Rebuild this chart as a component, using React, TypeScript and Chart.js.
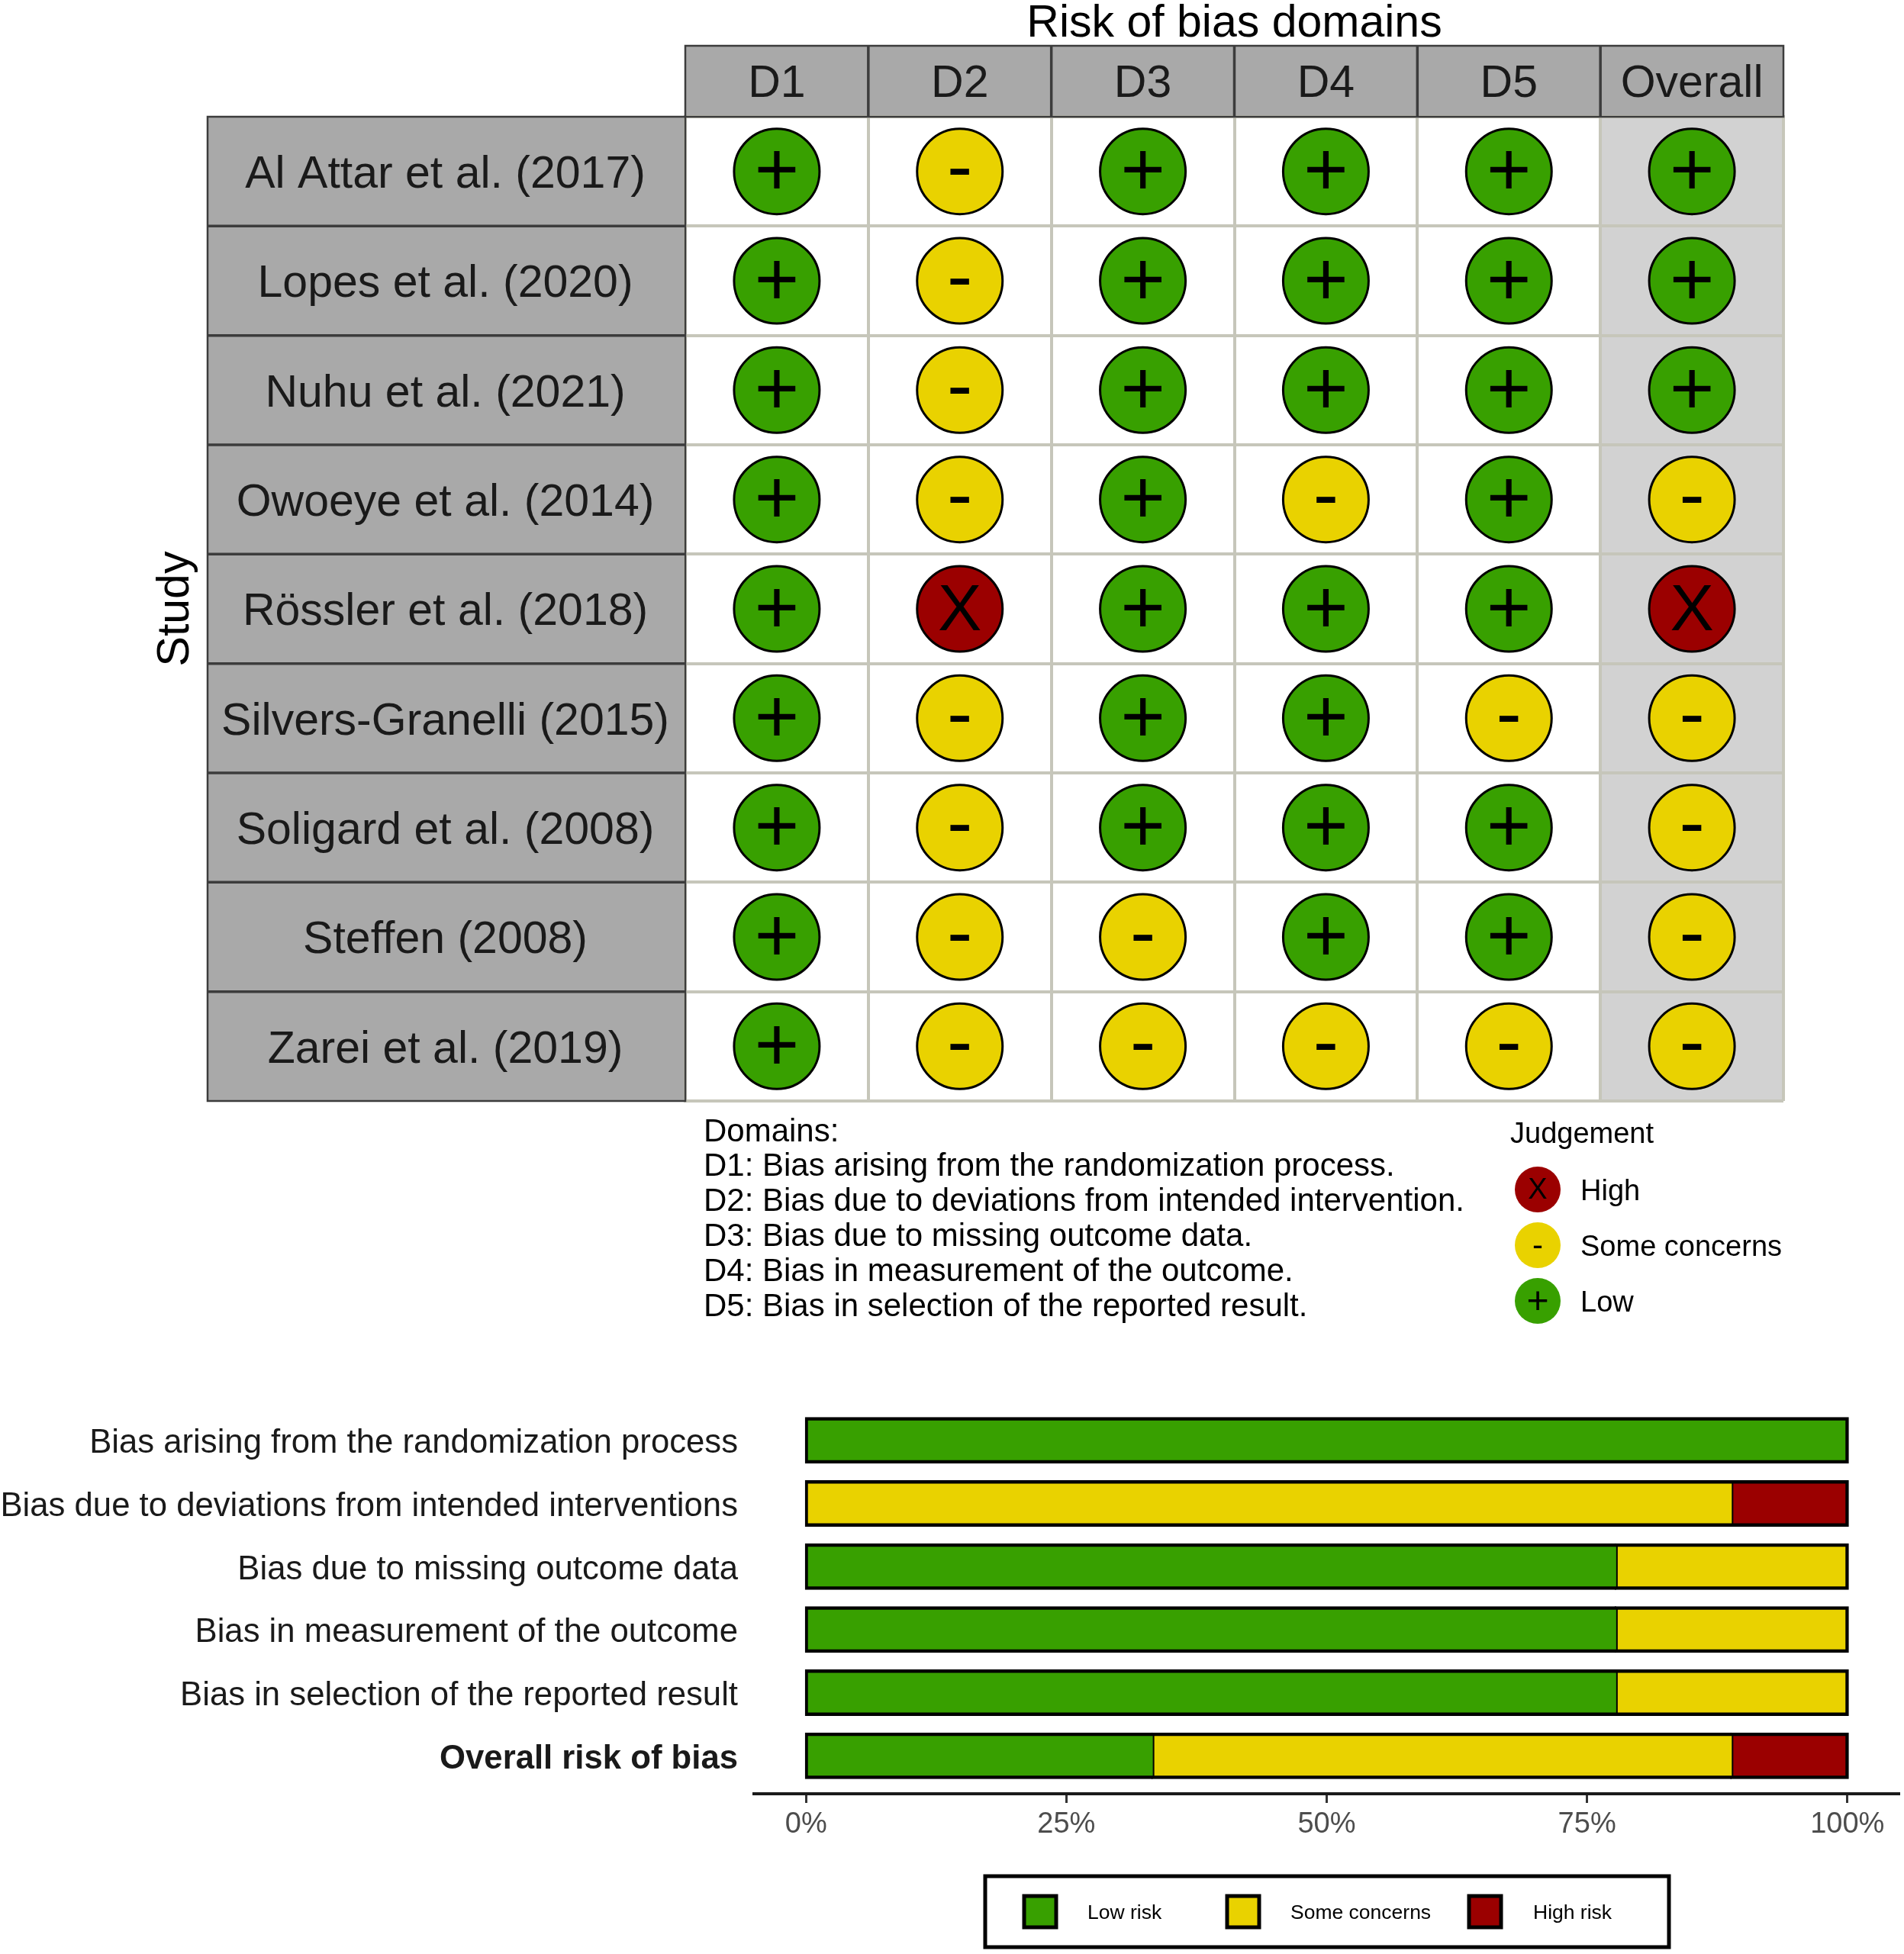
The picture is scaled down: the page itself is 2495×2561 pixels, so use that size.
import React, { useEffect, useRef } from "react";
import { Chart, registerables } from "chart.js";

Chart.register(...registerables);

const FONT = "'Liberation Sans', Arial, Helvetica, sans-serif";
Chart.defaults.font.family = FONT;

// ---------- traffic-light data ----------
const studies = [
  "Al Attar et al. (2017)",
  "Lopes et al. (2020)",
  "Nuhu et al. (2021)",
  "Owoeye et al. (2014)",
  "Rössler et al. (2018)",
  "Silvers-Granelli (2015)",
  "Soligard et al. (2008)",
  "Steffen (2008)",
  "Zarei et al. (2019)",
];
const domains = ["D1", "D2", "D3", "D4", "D5", "Overall"];
const d1 = ["+", "+", "+", "+", "+", "+", "+", "+", "+"];
const d2 = ["-", "-", "-", "-", "X", "-", "-", "-", "-"];
const d3 = ["+", "+", "+", "+", "+", "+", "+", "-", "-"];
const d4 = ["+", "+", "+", "-", "+", "+", "+", "+", "-"];
const d5 = ["+", "+", "+", "+", "+", "-", "+", "+", "-"];
const overall = ["+", "+", "+", "-", "X", "-", "-", "-", "-"];
const judgementColumns = [d1, d2, d3, d4, d5, overall];

const judgementNames = ["High", "Some concerns", "Low"];
const judgementGlyphs = ["X", "-", "+"];
const domainNotes = [
  "Domains:",
  "D1: Bias arising from the randomization process.",
  "D2: Bias due to deviations from intended intervention.",
  "D3: Bias due to missing outcome data.",
  "D4: Bias in measurement of the outcome.",
  "D5: Bias in selection of the reported result.",
];

// ---------- summary bar data ----------
const biasDomains = [
  "Bias arising from the randomization process",
  "Bias due to deviations from intended interventions",
  "Bias due to missing outcome data",
  "Bias in measurement of the outcome",
  "Bias in selection of the reported result",
  "Overall risk of bias",
];
const lowRisk = [100, 0, 77.8, 77.8, 77.8, 33.3];
const someConcerns = [0, 88.9, 22.2, 22.2, 22.2, 55.6];
const highRisk = [0, 11.1, 0, 0, 0, 11.1];
const xTicks = [0, 25, 50, 75, 100];
const barLegend = ["Low risk", "Some concerns", "High risk"];

// ---------- styling ----------
const GREEN = "#38a000";
const YELLOW = "#e9d200";
const RED = "#9b0000";
const glyphColors: Record<string, string> = { X: RED, "-": YELLOW, "+": GREEN };
const STRIP = "#a9a9a9";
const STRIP_LINE = "#3c3c3c";
const GRID = "#c6c6ba";
const TOP_H = 1780;

function text(ctx: any, s: string, x: number, y: number, font: string, color = "#000", align = "left") {
  ctx.font = font;
  ctx.fillStyle = color;
  ctx.textAlign = align;
  ctx.textBaseline = "middle";
  ctx.fillText(s, x, y);
}

function drawGlyph(ctx: any, g: string, x: number, y: number, big: boolean) {
  const size = big ? (g === "X" ? 86 : 100) : g === "X" ? 38 : g === "-" ? 42 : 50;
  const dy = big ? (g === "-" ? 0 : g === "+" ? 4 : 4) : 2;
  text(ctx, g, x, y + dy, `${size}px ${FONT}`, "#000", "center");
}

const stripPlugin = {
  id: "strips",
  beforeDraw(chart: any) {
    const { ctx, chartArea: a } = chart;
    ctx.save();
    // Overall column background
    const colW = (a.right - a.left) / domains.length;
    ctx.fillStyle = "#d2d2d2";
    ctx.fillRect(a.left + 5 * colW, a.top, colW, a.bottom - a.top);
    // strips
    ctx.fillStyle = STRIP;
    ctx.fillRect(272, a.top, a.left - 272, a.bottom - a.top);
    ctx.fillRect(a.left, 60, a.right - a.left, a.top - 60);
    ctx.restore();
  },
  afterDraw(chart: any) {
    const { ctx, chartArea: a } = chart;
    ctx.save();
    const rowH = (a.bottom - a.top) / studies.length;
    const colW = (a.right - a.left) / domains.length;
    ctx.strokeStyle = STRIP_LINE;
    ctx.lineWidth = 2.5;
    ctx.strokeRect(272, a.top, a.left - 272, a.bottom - a.top);
    ctx.strokeRect(a.left, 60, a.right - a.left, a.top - 60);
    ctx.lineWidth = 3.5;
    ctx.beginPath();
    for (let i = 1; i < studies.length; i++) {
      ctx.moveTo(272, a.top + i * rowH);
      ctx.lineTo(a.left, a.top + i * rowH);
    }
    for (let i = 1; i < domains.length; i++) {
      ctx.moveTo(a.left + i * colW, 60);
      ctx.lineTo(a.left + i * colW, a.top);
    }
    ctx.stroke();

    // domains note
    domainNotes.forEach((s, i) => text(ctx, s, 922, 1484 + i * 45.8, `42px ${FONT}`, "#000"));

    // judgement legend
    text(ctx, "Judgement", 1979, 1488, `38px ${FONT}`, "#000");
    judgementNames.forEach((n, i) => {
      const y = 1559 + i * 73;
      ctx.beginPath();
      ctx.arc(2015, y, 30, 0, Math.PI * 2);
      ctx.fillStyle = glyphColors[judgementGlyphs[i]];
      ctx.fill();
      drawGlyph(ctx, judgementGlyphs[i], 2015, y, false);
      text(ctx, n, 2071, y + 4, `38px ${FONT}`, "#000");
    });
    ctx.restore();
  },
  afterDatasetsDraw(chart: any) {
    const { ctx } = chart;
    ctx.save();
    chart.data.datasets.forEach((ds: any, i: number) => {
      chart.getDatasetMeta(i).data.forEach((el: any) => {
        drawGlyph(ctx, ds.glyph, el.x, el.y, true);
      });
    });
    ctx.restore();
  },
};

const barLegendPlugin = {
  id: "barLegend",
  afterDraw(chart: any) {
    const { ctx } = chart;
    ctx.save();
    ctx.strokeStyle = "#000";
    ctx.lineWidth = 5;
    ctx.strokeRect(1291, 2459 - TOP_H, 896, 93);
    const swatchX = [1340, 1606, 1923];
    const labelX = [1425, 1691, 2009];
    const colours = [GREEN, YELLOW, RED];
    barLegend.forEach((n, i) => {
      ctx.fillStyle = colours[i];
      ctx.fillRect(swatchX[i] + 2, 2485 - TOP_H, 42, 41);
      ctx.lineWidth = 5;
      ctx.strokeRect(swatchX[i] + 2, 2485 - TOP_H, 42, 41);
      text(ctx, n, labelX[i], 2508 - TOP_H, `26.5px ${FONT}`, "#000");
    });
    ctx.restore();
  },
};

export default function App() {
  const topRef = useRef<HTMLCanvasElement>(null);
  const botRef = useRef<HTMLCanvasElement>(null);

  useEffect(() => {
    const datasets = judgementGlyphs.map((g, k) => {
      const data: { x: string; y: string }[] = [];
      judgementColumns.forEach((col, c) =>
        col.forEach((v, r) => {
          if (v === g) data.push({ x: domains[c], y: studies[r] });
        })
      );
      return {
        label: judgementNames[k],
        glyph: g,
        data,
        showLine: false,
        pointStyle: "circle",
        pointRadius: 56,
        pointHoverRadius: 56,
        pointBackgroundColor: glyphColors[g],
        pointBorderColor: "#000",
        pointBorderWidth: 3,
        clip: false,
      };
    });

    const top = new Chart(topRef.current!, {
      type: "scatter",
      data: { datasets } as any,
      plugins: [stripPlugin],
      options: {
        animation: false,
        responsive: false,
        devicePixelRatio: 1,
        layout: { autoPadding: false, padding: { left: 195, top: 0, right: 158, bottom: TOP_H - 1443 } },
        plugins: { legend: { display: false }, tooltip: { enabled: false } },
        scales: {
          x: {
            type: "category",
            labels: domains,
            position: "top",
            offset: true,
            afterFit(s: any) {
              s.height = 153;
            },
            title: {
              display: true,
              text: "Risk of bias domains",
              font: { size: 59, lineHeight: 1.07 },
              color: "#000",
              padding: { top: 0, bottom: 0 },
            },
            grid: { offset: true, color: GRID, lineWidth: 4, drawTicks: false },
            border: { color: GRID, width: 4 },
            ticks: { font: { size: 59 }, color: "#1a1a1a", padding: 7, maxRotation: 0, autoSkip: false },
          },
          y: {
            type: "category",
            labels: studies,
            offset: true,
            afterFit(s: any) {
              s.width = 898 - 195;
            },
            title: {
              display: true,
              text: "Study",
              font: { size: 59 },
              color: "#000",
              padding: { top: 0, bottom: 0 },
            },
            grid: { offset: true, color: GRID, lineWidth: 4, drawTicks: false },
            border: { color: GRID, width: 4 },
            ticks: {
              font: { size: 59 },
              color: "#1a1a1a",
              padding: 21,
              crossAlign: "center",
              autoSkip: false,
              labelOffset: 5,
            },
          },
        },
      } as any,
    });

    const series = [lowRisk, someConcerns, highRisk];
    const seriesColours = [GREEN, YELLOW, RED];
    const bot = new Chart(botRef.current!, {
      type: "bar",
      data: {
        labels: biasDomains,
        datasets: barLegend.map((name, k) => ({
          label: name,
          data: series[k].map((v, i) => ({ x: v, y: i })),
          backgroundColor: seriesColours[k],
          borderColor: "#000",
          borderSkipped: false,
          barThickness: 57,
          inflateAmount: (c: any) => (series[k][c.dataIndex] === 0 ? 0 : 2),
          borderWidth: (c: any) => {
            const i = c.dataIndex;
            if (series[k][i] === 0) return 0;
            const after = series.slice(k + 1).reduce((s, a) => s + a[i], 0);
            return { top: 4.5, bottom: 4.5, left: 4, right: after === 0 ? 4.5 : 0 };
          },
        })),
      } as any,
      plugins: [barLegendPlugin],
      options: {
        indexAxis: "y",
        animation: false,
        responsive: false,
        devicePixelRatio: 1,
        layout: { autoPadding: false, padding: { left: 0, top: 1838 - TOP_H, right: 6, bottom: 0 } },
        plugins: { legend: { display: false }, tooltip: { enabled: false } },
        scales: {
          x: {
            type: "linear",
            stacked: true,
            min: -5,
            max: 105,
            afterBuildTicks(s: any) {
              s.ticks = xTicks.map((value) => ({ value }));
            },
            afterFit(s: any) {
              s.height = 2561 - 2351;
            },
            grid: { drawOnChartArea: false, drawTicks: true, tickLength: 12, tickColor: "#333", tickWidth: 3 },
            border: { color: "#1a1a1a", width: 4 },
            ticks: {
              font: { size: 38 },
              color: "#4d4d4d",
              padding: 6,
              maxRotation: 0,
              callback: (v: any) => `${v}%`,
            },
          },
          y: {
            type: "linear",
            stacked: true,
            reverse: true,
            offset: false,
            min: -0.6,
            max: 5.6,
            afterBuildTicks(s: any) {
              s.ticks = biasDomains.map((_, value) => ({ value }));
            },
            afterFit(s: any) {
              s.width = 988;
            },
            grid: { display: false, drawTicks: false, offset: false },
            border: { display: false },
            ticks: {
              font: (c: any) => ({ size: 43.7, weight: c.index === 5 ? "bold" : "normal" }),
              color: "#1a1a1a",
              padding: 21,
              autoSkip: false,
              labelOffset: 4.5,
              callback: (v: any) => biasDomains[v],
            },
          },
        },
      } as any,
    });

    return () => {
      top.destroy();
      bot.destroy();
    };
  }, []);

  return (
    <div style={{ position: "absolute", left: 0, top: 0, width: 2495, height: 2561, background: "#fff" }}>
      <canvas ref={topRef} width={2495} height={TOP_H} style={{ position: "absolute", left: 0, top: 0 }} />
      <canvas ref={botRef} width={2495} height={2561 - TOP_H} style={{ position: "absolute", left: 0, top: TOP_H }} />
    </div>
  );
}
